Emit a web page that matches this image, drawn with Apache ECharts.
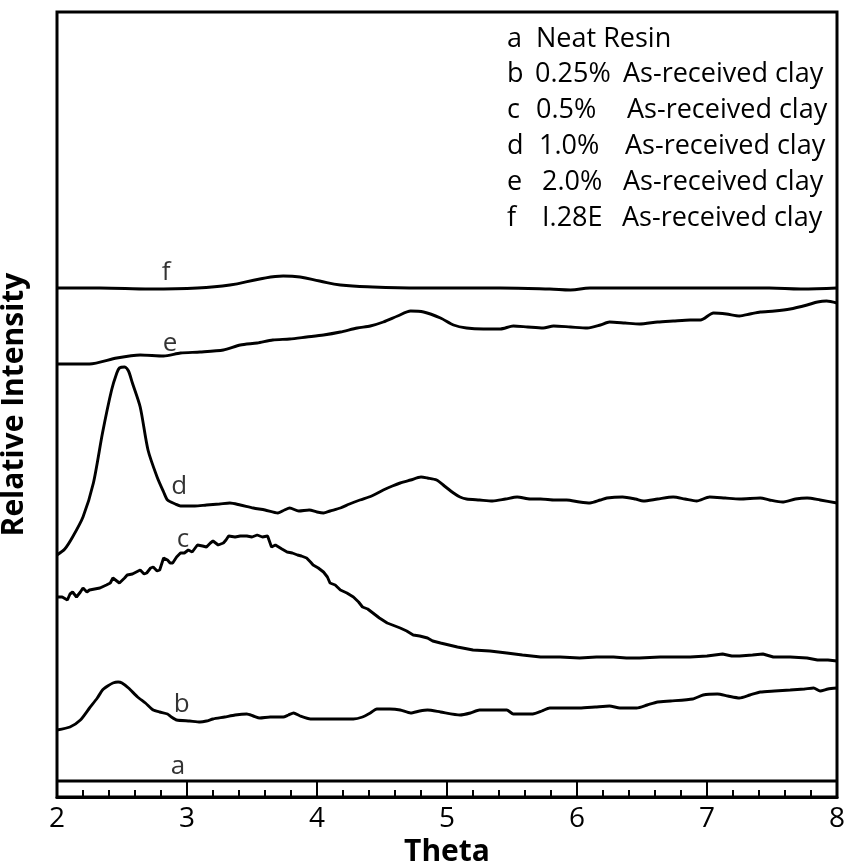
<!DOCTYPE html>
<html>
<head>
<meta charset="utf-8">
<script src="https://cdn.jsdelivr.net/npm/echarts@6/dist/echarts.min.js"></script>
<style>
  html, body { margin: 0; padding: 0; background: #fff; }
  #chart { width: 852px; height: 865px; }
</style>
</head>
<body>
<div id="chart"></div>
<script>
// XRD scans: [theta, relative intensity (arbitrary units, curves offset vertically)]
const curveA = [[2.00, 16], [8.00, 16]];

const curveB = [
  [2.00, 67], [2.10, 70], [2.18, 77], [2.25, 89], [2.31, 99], [2.35, 107], [2.39, 111], [2.43, 114],
  [2.47, 115], [2.50, 114], [2.55, 109], [2.62, 100], [2.68, 94], [2.74, 87], [2.79, 85], [2.85, 83],
  [2.88, 80], [2.92, 77], [3.02, 76], [3.10, 75], [3.15, 76], [3.20, 78], [3.29, 80], [3.37, 82],
  [3.46, 83], [3.51, 81], [3.56, 79], [3.64, 80], [3.74, 80], [3.78, 82], [3.82, 84], [3.87, 81],
  [3.95, 78], [4.10, 78], [4.28, 78], [4.35, 80], [4.41, 84], [4.46, 88], [4.56, 88], [4.64, 87],
  [4.72, 84], [4.79, 86], [4.85, 87], [4.95, 85], [5.10, 82], [5.18, 84], [5.25, 87], [5.35, 87],
  [5.46, 87], [5.51, 83], [5.58, 83], [5.66, 83], [5.73, 86], [5.79, 89], [5.91, 89], [6.02, 89],
  [6.14, 90], [6.25, 91], [6.33, 89], [6.46, 89], [6.54, 92], [6.62, 95], [6.72, 96], [6.89, 98],
  [6.97, 102], [7.08, 103], [7.16, 101], [7.25, 99], [7.33, 102], [7.41, 105], [7.52, 106], [7.64, 107],
  [7.75, 108], [7.82, 109], [7.87, 106], [7.93, 108], [8.00, 109]
];

const curveC = [
  [2.00, 200], [2.04, 200], [2.08, 197], [2.10, 203], [2.12, 205], [2.15, 200], [2.18, 205], [2.20, 209],
  [2.23, 205], [2.25, 207], [2.29, 208], [2.33, 209], [2.38, 212], [2.41, 214], [2.43, 219], [2.46, 216],
  [2.48, 214], [2.52, 219], [2.54, 222], [2.58, 223], [2.61, 225], [2.64, 227], [2.67, 223], [2.69, 224],
  [2.72, 229], [2.74, 230], [2.77, 226], [2.79, 227], [2.82, 239], [2.85, 237], [2.87, 234], [2.89, 234],
  [2.92, 240], [2.95, 244], [2.98, 244], [3.01, 247], [3.04, 245], [3.08, 252], [3.12, 251], [3.15, 250],
  [3.18, 254], [3.20, 256], [3.24, 252], [3.28, 254], [3.30, 257], [3.32, 261], [3.37, 260], [3.41, 261],
  [3.46, 261], [3.50, 260], [3.54, 262], [3.58, 260], [3.62, 261], [3.65, 250], [3.68, 252], [3.69, 252],
  [3.73, 248], [3.77, 245], [3.81, 244], [3.85, 242], [3.88, 241], [3.92, 239], [3.95, 235], [3.97, 232],
  [4.01, 229], [4.05, 225], [4.08, 220], [4.10, 214], [4.14, 212], [4.18, 207], [4.23, 204], [4.28, 200],
  [4.32, 195], [4.35, 190], [4.39, 188], [4.43, 184], [4.48, 179], [4.54, 174], [4.58, 172], [4.64, 169],
  [4.69, 166], [4.74, 162], [4.79, 161], [4.85, 159], [4.89, 156], [4.95, 154], [5.08, 150], [5.20, 147],
  [5.33, 146], [5.46, 144], [5.58, 142], [5.72, 140], [5.87, 140], [6.02, 139], [6.15, 140], [6.28, 140],
  [6.38, 139], [6.48, 139], [6.64, 140], [6.87, 140], [7.00, 141], [7.12, 143], [7.19, 141], [7.25, 141],
  [7.35, 142], [7.43, 143], [7.51, 140], [7.64, 140], [7.77, 139], [7.85, 137], [7.93, 137], [8.00, 136]
];

const curveD = [
  [2.00, 242], [2.06, 248], [2.12, 260], [2.20, 280], [2.28, 314], [2.35, 364], [2.42, 407], [2.46, 424],
  [2.48, 429], [2.52, 430], [2.55, 426], [2.58, 414], [2.64, 390], [2.70, 347], [2.77, 320], [2.82, 305],
  [2.85, 297], [2.91, 293], [2.95, 291], [3.06, 291], [3.15, 292], [3.25, 293], [3.33, 294], [3.41, 292],
  [3.51, 289], [3.60, 287], [3.70, 284], [3.75, 287], [3.79, 289], [3.86, 286], [3.94, 287], [4.00, 285],
  [4.05, 284], [4.10, 286], [4.18, 289], [4.25, 293], [4.33, 297], [4.42, 301], [4.51, 307], [4.58, 311],
  [4.64, 314], [4.72, 317], [4.80, 320], [4.85, 319], [4.92, 317], [4.98, 311], [5.05, 304], [5.10, 300],
  [5.15, 298], [5.25, 297], [5.35, 296], [5.45, 298], [5.54, 300], [5.64, 298], [5.72, 298], [5.83, 297],
  [5.92, 297], [6.02, 295], [6.10, 294], [6.18, 297], [6.23, 299], [6.35, 300], [6.45, 298], [6.51, 296],
  [6.62, 298], [6.74, 300], [6.83, 298], [6.92, 296], [7.02, 300], [7.14, 299], [7.25, 298], [7.41, 299],
  [7.48, 297], [7.58, 295], [7.68, 298], [7.77, 299], [7.87, 297], [8.00, 294]
];

const curveE = [
  [2.00, 433], [2.25, 433], [2.46, 439], [2.64, 442], [2.82, 441], [2.95, 444], [3.10, 445], [3.28, 447],
  [3.41, 452], [3.54, 454], [3.66, 457], [3.79, 458], [3.92, 460], [4.05, 462], [4.18, 465], [4.31, 469],
  [4.41, 471], [4.51, 475], [4.62, 481], [4.72, 486], [4.82, 485], [4.95, 479], [5.05, 472], [5.15, 469],
  [5.28, 468], [5.41, 468], [5.51, 471], [5.62, 470], [5.74, 469], [5.82, 471], [5.95, 470], [6.08, 469],
  [6.18, 472], [6.25, 475], [6.37, 474], [6.48, 473], [6.62, 475], [6.74, 476], [6.87, 477], [6.95, 477],
  [7.05, 484], [7.15, 483], [7.25, 481], [7.33, 483], [7.41, 485], [7.52, 486], [7.64, 488], [7.77, 492],
  [7.85, 495], [7.92, 496], [8.00, 494]
];

const curveF = [
  [2.00, 509], [2.33, 509], [2.72, 508], [3.08, 509], [3.33, 512], [3.56, 518], [3.74, 521], [3.87, 520],
  [4.02, 516], [4.18, 512], [4.43, 510], [4.79, 509], [5.10, 509], [5.41, 509], [5.79, 508], [5.95, 507],
  [6.10, 509], [6.95, 509], [7.48, 509], [7.72, 508], [8.00, 509]
];

// Curve tags placed next to each trace: [theta, intensity, tag]
const curveTags = [
  [2.93, 30, 'a'], [2.96, 92, 'b'], [2.97, 257, 'c'],
  [2.94, 310, 'd'], [2.87, 453, 'e'], [2.84, 524, 'f']
];

// Key in the upper right: tag, loading, filler
const keyTags = ['a', 'b', 'c', 'd', 'e', 'f'];
const keyLoadings = ['Neat Resin', '0.25%', '0.5%', '1.0%', '2.0%', 'I.28E'];
const keyFiller = ['', 'As-received clay', 'As-received clay', 'As-received clay', 'As-received clay', 'As-received clay'];

const FONT = 'Open Sans';
const chart = echarts.init(document.getElementById('chart'));

const lineSeries = (data, smooth) => ({
  type: 'line',
  data: data,
  symbol: 'none',
  smooth: smooth,
  lineStyle: { color: '#000', width: 2.9 },
  z: 3
});

// key rows
const keyX1 = [507, 507, 507, 507, 507, 507];
const keyX2 = [536, 535, 536, 539, 542, 542];
const keyX3 = [0, 623, 627, 625, 623, 622];
const keyY = [39, 74, 110, 146, 182, 218];
const keyGraphics = [];
keyTags.forEach((t, i) => {
  const style = { fill: '#000', font: '27px "' + FONT + '"', verticalAlign: 'middle', align: 'left' };
  keyGraphics.push({ type: 'text', x: keyX1[i], y: keyY[i], style: Object.assign({ text: t }, style) });
  keyGraphics.push({ type: 'text', x: keyX2[i], y: keyY[i], style: Object.assign({ text: keyLoadings[i] }, style) });
  if (keyFiller[i]) {
    keyGraphics.push({ type: 'text', x: keyX3[i], y: keyY[i], style: Object.assign({ text: keyFiller[i] }, style) });
  }
});

chart.setOption({
  animation: false,
  backgroundColor: '#fff',
  grid: {
    left: 57, right: 15, top: 12, bottom: 68,
    outerBoundsMode: 'none', containLabel: false,
    show: true, borderColor: '#000', borderWidth: 3, backgroundColor: 'transparent'
  },
  xAxis: {
    type: 'value', min: 2, max: 8, interval: 1,
    name: 'Theta', nameLocation: 'middle', nameGap: 40,
    nameTextStyle: { fontFamily: FONT, fontWeight: 'bold', fontSize: 30, color: '#000' },
    axisLine: { show: true, lineStyle: { color: '#000', width: 3 } },
    axisTick: { show: true, inside: true, length: 16, lineStyle: { color: '#000', width: 2 } },
    minorTick: { show: true, splitNumber: 5, length: 7, lineStyle: { color: '#000', width: 2 } },
    splitLine: { show: false },
    axisLabel: { fontFamily: FONT, fontSize: 28, color: '#000', margin: 8 }
  },
  yAxis: {
    type: 'value', min: 0, max: 785,
    name: 'Relative Intensity', nameLocation: 'middle', nameGap: 28,
    nameTextStyle: { fontFamily: FONT, fontWeight: 'bold', fontSize: 30, color: '#000' },
    axisLine: { show: false }, axisTick: { show: false },
    axisLabel: { show: false }, splitLine: { show: false }
  },
  series: [
    lineSeries(curveA, false),
    lineSeries(curveB, 0.2),
    lineSeries(curveC, false),
    lineSeries(curveD, 0.25),
    lineSeries(curveE, 0.25),
    lineSeries(curveF, 0.4),
    {
      type: 'scatter',
      data: curveTags,
      symbolSize: 0,
      label: {
        show: true, position: 'inside',
        formatter: p => p.value[2],
        fontFamily: FONT, fontSize: 26, color: '#000'
      },
      z: 4
    }
  ],
  graphic: keyGraphics
});
</script>
</body>
</html>
